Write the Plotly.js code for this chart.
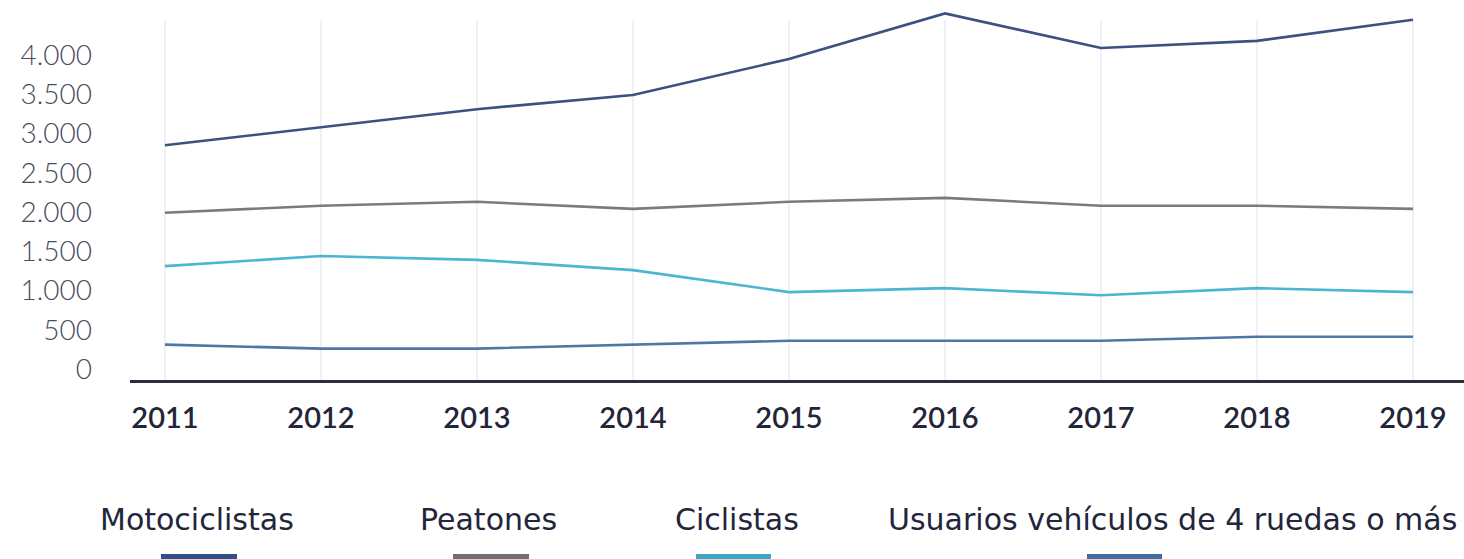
<!DOCTYPE html>
<html>
<head>
<meta charset="utf-8">
<script src="https://cdn.plot.ly/plotly-3.0.1.min.js"></script>
<style>
html,body{margin:0;padding:0;background:#fff;}
#chart{width:1464px;height:559px;}
</style>
</head>
<body>
<div id="chart"></div>
<script>
// ---- data ----
var years = [2011, 2012, 2013, 2014, 2015, 2016, 2017, 2018, 2019];
var motociclistas = [2850, 3080, 3310, 3490, 3950, 4530, 4090, 4180, 4450];
var peatones = [1990, 2080, 2130, 2040, 2130, 2180, 2080, 2080, 2040];
var ciclistas = [1310, 1440, 1390, 1260, 980, 1030, 940, 1030, 980];
var usuarios4 = [310, 260, 260, 310, 360, 360, 360, 410, 410];
var seriesNames = ["Motociclistas", "Peatones", "Ciclistas", "Usuarios vehículos de 4 ruedas o más"];
var yTicks = [0, 500, 1000, 1500, 2000, 2500, 3000, 3500, 4000];

var lineColors = ["#3c5180", "#7b7b7d", "#4bb6cf", "#4d78a5"];
var swatchColors = ["#2f5087", "#707072", "#3aa8c6", "#3f6f9d"];
var allSeries = [motociclistas, peatones, ciclistas, usuarios4];

var traces = allSeries.map(function (vals, i) {
  return {
    x: years, y: vals, type: "scatter", mode: "lines",
    name: seriesNames[i],
    line: {color: lineColors[i], width: 2.6},
    showlegend: false, hoverinfo: "x+y+name"
  };
});

// layout geometry (pixels)
var W = 1464, H = 559;
var mL = 130, mR = 0, mT = 5, mB = 179;
var plotH = H - mT - mB;
function py(p) { return (H - mB - p) / plotH; }      // pixel y -> paper y
function px(p) { return (p - mL) / (W - mL - mR); }  // pixel x -> paper x

var shapes = [];
years.forEach(function (yr) {
  shapes.push({type: "line", xref: "x", yref: "paper", x0: yr, x1: yr,
    y0: 0, y1: py(20), line: {color: "#e6e8ee", width: 1.2}, layer: "below"});
});

// custom legend (text above swatch)
var legTextX = [197, 488, 737, 1172];
var legSwatch = [[161, 237], [453, 529], [696, 771], [1087, 1162]];
var annotations = [];
seriesNames.forEach(function (n, i) {
  annotations.push({text: n, xref: "paper", yref: "paper", x: px(legTextX[i]), y: py(519),
    xanchor: "center", yanchor: "middle", showarrow: false,
    font: {family: "'DejaVu Sans', sans-serif", size: 30, color: "#23263a"}});
  shapes.push({type: "rect", xref: "paper", yref: "paper",
    x0: px(legSwatch[i][0]), x1: px(legSwatch[i][1]), y0: py(565), y1: py(554),
    fillcolor: swatchColors[i], line: {width: 0}});
});

var layout = {
  width: W, height: H,
  margin: {l: mL, r: mR, t: mT, b: mB, pad: 0},
  paper_bgcolor: "#ffffff", plot_bgcolor: "#ffffff",
  separators: ",.",
  showlegend: false,
  xaxis: {
    type: "linear", range: [2010.776, 2019.327],
    tickvals: years, ticktext: years.map(String),
    showgrid: false, zeroline: false,
    showline: true, linecolor: "#2a2d3e", linewidth: 3,
    ticks: "", ticklabelstandoff: 10,
    tickfont: {family: "Lato, sans-serif", size: 29, color: "#23263a", weight: 600}
  },
  yaxis: {
    range: [-140, 4637], tickvals: yTicks, tickformat: ",d",
    showgrid: false, zeroline: false, showline: false, ticks: "",
    ticklabelstandoff: 37,
    tickfont: {family: "Lato, sans-serif", size: 28, color: "#4a4d5a", weight: 300}
  },
  shapes: shapes,
  annotations: annotations
};

Plotly.newPlot("chart", traces, layout, {displayModeBar: false, staticPlot: true});
</script>
</body>
</html>
